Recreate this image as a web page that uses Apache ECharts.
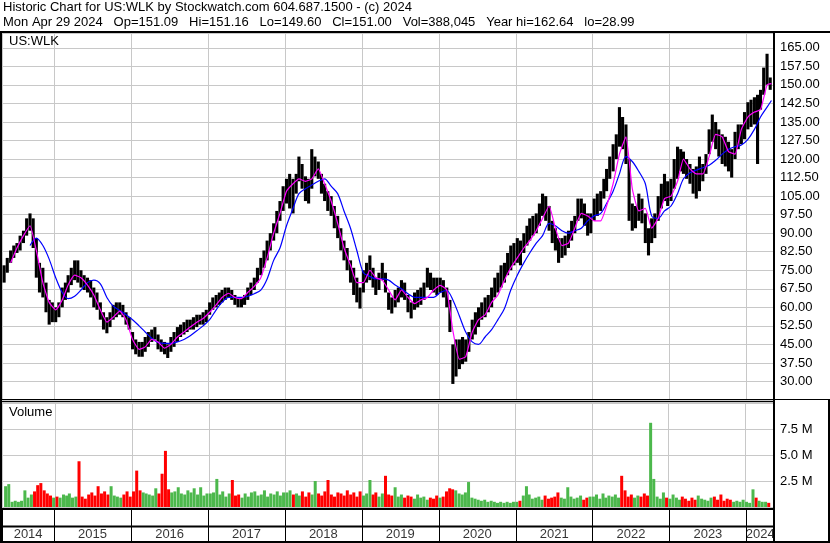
<!DOCTYPE html>
<html><head><meta charset="utf-8">
<script src="https://cdn.jsdelivr.net/npm/echarts@6/dist/echarts.min.js"></script>
<style>html,body{margin:0;padding:0;background:#fff}#c{width:830px;height:543px}</style>
</head><body><div id="c"></div>
<script>
// Half-month bars from May 2014 to Apr 2024 (index 0 = 1st half of May 2014)
const lows = [
70,74,78,80,82,83,86,89,91,84,72,66,64,58,53,54,
54,56,60,63,66,69,71,70,68,67,66,64,60,59,55,51,49.5,52,55,56,57,56,53,51,
43,41,40,40,42,44,46,47,43,42,41,39.5,42,44,46,48,49,50,51,51,52,53,53,54,
57,59,60,61,62,63,64,63,61,60,60,61,63,65,67,70,73,76,79,83,87,90,95,99,
102,100,98,106,111,108,103,102,108,113,112,106,103,99,97,92,88,83,79,75,70,65,62,59.5,
66,70,71,68,65,67,71,66,59,57.5,60,62,64,63,58,55.5,59,60,61,63,68,67,66,65,
66,64,60,50,29,32,35,37,38,42,47,49,52,55,56,58,60,64,66,68,70,73,75,77,
78,77,82,85,87,89,90,93,97,95,91,86,83,78,80,81,84,87,90,95,96,93,89,90,
95,97,99,104,107,112,115,120,125,124,118,95,91,92,95,94,86,81,86,88,95,100,103,101,
103,108,112,115,114,112,110,106,104,107,111,114,122,127,124,121,118,117,115,112.5,120,124,126,128,
132,133,134,118,140,146,150,148
];
const highs = [
77,80,83,85,86,89,91,96,98,96,88,78,76,70,63,62,
60,62,68,70,73,76,79,79,75,73,72,71,68,66,62,58,56,58,61,62,62,61,58,56,
50,47,46,46,48,50,51,52,49,47,46,45,48,50,52,53,54,55,55,56,57,57,58,59,
62,64,65,66,67,68,68,67,65,64,64,65,68,70,72,76,80,83,87,90,94,99,103,109,
112,114,112,114,121,118,113,112,124,121,119,114,110,107,105,101,97,92,87,84,79,76,72,68,
75,78,81,76,72,74,78,74,66,64,67,68,71,70,65,62,66,67,68,70,76,74,72,72,
72,71,68,63,45,47,47,48,47,50,55,58,60,62,64,65,68,72,74,77,78,82,85,86,
88,87,90,93,96,97,98,102,106,105,101,95,92,88,88,89,91,95,97,104,104,102,98,98,
104,106,107,112,116,121,126,130,141,137,134,120,102,101,106,104,98,92,96,98,105,110,114,111,
112,120,125,124,123,120,118,116,117,121,118,122,132,138,135,132,130,129,127,124,131,134,134,139,
143,144,145,146,148,157,162.6,153
];
// Volume, millions of shares
const volumes = [
2.0,2.2,0.5,0.6,0.5,0.6,1.6,0.9,1.2,1.5,2.1,2.3,1.6,1.3,1.1,0.9,
1.0,0.9,1.2,1.1,1.3,0.9,1.0,4.4,1.0,0.8,1.2,1.4,1.1,2.0,1.3,1.5,1.2,2.0,1.1,1.0,0.9,1.2,1.5,1.0,
1.5,3.5,1.6,1.4,1.3,1.2,1.1,1.8,1.3,3.2,5.4,1.7,1.4,1.5,1.9,1.3,1.2,1.6,1.4,1.8,1.2,1.9,1.1,1.3,
1.3,1.4,2.7,1.2,1.5,1.0,1.3,2.6,1.1,1.2,0.9,1.3,1.0,1.4,1.5,1.1,1.2,1.6,1.0,1.3,1.2,1.5,1.1,1.4,
1.4,1.6,1.2,1.3,1.1,1.5,1.0,1.4,1.2,2.5,1.3,1.1,1.5,2.6,1.2,1.0,1.4,1.3,1.1,1.6,1.2,1.4,1.0,1.5,
1.1,1.3,2.6,1.2,1.4,1.0,1.3,3.0,1.2,1.1,1.9,1.0,1.2,0.9,1.1,1.0,0.8,1.2,0.9,1.0,0.7,0.9,0.8,1.1,
0.9,1.0,1.5,1.8,1.7,1.6,1.3,1.2,1.4,2.4,0.9,0.8,0.7,0.6,0.7,0.5,0.6,0.5,0.4,0.5,0.4,0.5,0.4,0.5,
0.5,0.6,1.1,2.0,1.2,0.8,0.9,1.0,0.7,1.1,0.8,0.9,1.0,1.4,0.9,0.8,1.9,1.0,0.8,0.9,1.1,0.7,0.9,1.0,
1.0,1.2,0.8,1.3,0.9,1.1,1.0,1.2,0.9,3.0,1.6,1.0,1.2,0.9,1.1,1.0,1.3,1.1,8.1,2.7,1.0,0.8,1.4,0.9,
0.8,1.2,0.9,0.7,1.0,0.8,0.6,0.9,0.7,1.1,0.8,0.7,0.6,0.9,1.0,0.7,1.2,0.6,0.8,0.7,0.5,0.6,0.5,0.7,
0.5,0.4,1.7,0.9,0.6,0.5,0.5,0.4
];
// Monthly moving-average readings (first half of each month) + last day
const maShort = [
null,78,84,89,93,83,70,62,59,63,
69,73,72,69,65,59,54,56,58.5,55,
47,43,44,47,46,43.5,45,48,50,52,
54,55.5,58,61,64,65.7,64,63.5,66,68.5,
72,80,90,98,107,110,112,111,112,116,
110,103,94,84,77,70,70,75,72,71,
67,63,67,64,61.5,63,64,67,68.9,67,
50.6,39,40,50,55,57,62,65,71,76,
80,84,87,91,96,101,92,85,86,92,
98,97,95,95,101,110,122,129,108,99,
100,92,96,104,105,111,120,116,114,114,
121,130,129,123,122,132,137,139,140,150,
150.5
];
const maLong = [
null,null,null,null,85,88,85,79.5,72,66,
63.5,64.5,67,70,71,69.5,64,60.5,58.7,57,
55,52.5,50,47.5,45.8,45.4,45.4,46,47,48.5,
50.5,52.5,55,59,62,64,64,64,64.5,65.5,
67,71.5,79,84,93,100,106,108,109.5,111,
112,109,106,99,92,83,74,72.5,71.5,71.5,
71,69,67.5,65.5,64,64,64,64,66,66.8,
63,56.5,50,46,45,48,51,55,59.5,67,
73,78,82,86,89,94,93,91,90,91,
92,95,97,98,102,107,114,121,119,115,
110,97,96,99,101,106,112,114.5,115.5,116.5,
117.5,119.5,122,124,125,125.7,128,132,137,141,
143.7
];
const yearLabels = ['2014','2015','2016','2017','2018','2019','2020','2021','2022','2023','2024'];
const yearLabelDates = ['2014-08-30','2015-07-02','2016-07-02','2017-07-02','2018-07-02','2019-07-02','2020-07-02','2021-07-02','2022-07-02','2023-07-02','2024-03-07'];
const headerLine1 = 'Historic Chart for US:WLK by Stockwatch.com 604.687.1500 - (c) 2024';
const headerLine2 = 'Mon Apr 29 2024   Op=151.09   Hi=151.16   Lo=149.60   Cl=151.00   Vol=388,045   Year hi=162.64   lo=28.99';
const symbolName = 'US:WLK';
const volumeTitle = 'Volume';

function barDate(i) {
  const m = 4 + Math.floor(i / 2);
  const y = 2014 + Math.floor(m / 12);
  const mm = (m % 12) + 1;
  return y + '-' + String(mm).padStart(2, '0') + '-' + (i % 2 ? '23' : '08');
}
const dates = lows.map((_, i) => barDate(i));
const maDates = maShort.map((_, k) => (k < 120 ? barDate(2 * k) : '2024-04-29'));

const FONT = '"Liberation Sans", Arial, sans-serif';
const xMin = +new Date('2014-04-28');
const xMax = +new Date('2024-05-11');
const YEAR = 365.25 * 864e5;

function xAxisFor(gridIndex, splitColor) {
  return {
    type: 'time', gridIndex, min: xMin, max: xMax,
    minInterval: YEAR, maxInterval: YEAR,
    axisLine: { show: false }, axisTick: { show: false }, axisLabel: { show: false },
    splitLine: { show: true, lineStyle: { color: splitColor, width: 1 } }
  };
}

const mids = lows.map((l, i) => (l + highs[i]) / 2);
const volData = volumes.map((v, i) => ({
  value: [dates[i], v],
  itemStyle: { color: (i === 0 || mids[i] >= mids[i - 1]) ? '#4cb84c' : '#ff0000' }
}));

const chart = echarts.init(document.getElementById('c'), null, { renderer: 'canvas' });
chart.setOption({
  backgroundColor: '#fff',
  animation: false,
  grid: [
    { left: 2, right: 56, top: 33, height: 367 },
    { left: 2, right: 56, top: 402, height: 105 },
    { left: 2, right: 56, top: 510, height: 16 },
    { left: 2, right: 56, top: 527, height: 14 }
  ],
  xAxis: [xAxisFor(0, '#c8c8c8'), xAxisFor(1, '#c8c8c8'), xAxisFor(2, '#000'), xAxisFor(3, '#000')],
  yAxis: [
    { type: 'value', gridIndex: 0, position: 'right', min: 22.5, max: 171, interval: 7.5,
      axisLine: { show: false }, axisTick: { show: false },
      axisLabel: { showMinLabel: false, showMaxLabel: false, margin: 6, color: '#000', fontSize: 13, fontFamily: FONT,
        formatter: v => (v < 29 || v > 166 ? '' : v.toFixed(2)) },
      splitLine: { lineStyle: { color: '#c8c8c8', width: 1 } } },
    { type: 'value', gridIndex: 1, position: 'right', min: 0, max: 10.1, interval: 2.5,
      axisLine: { show: false }, axisTick: { show: false },
      axisLabel: { showMinLabel: false, showMaxLabel: false, margin: 6, color: '#000', fontSize: 13, fontFamily: FONT,
        formatter: v => (v === 0 || v > 8 ? '' : v.toFixed(1) + ' M') },
      splitLine: { lineStyle: { color: '#c8c8c8', width: 1 } } },
    { type: 'value', gridIndex: 2, min: 0, max: 1, show: false },
    { type: 'value', gridIndex: 3, min: 0, max: 1, show: false }
  ],
  series: [
    {
      type: 'custom', xAxisIndex: 0, yAxisIndex: 0, z: 3,
      data: dates.map((d, i) => [d, lows[i], highs[i]]),
      encode: { x: 0, y: [1, 2] },
      renderItem(params, api) {
        const lo = api.coord([api.value(0), api.value(1)]);
        const hi = api.coord([api.value(0), api.value(2)]);
        const w = 3.1;
        return { type: 'rect', shape: { x: lo[0] - w / 2, y: hi[1], width: w, height: Math.max(1, lo[1] - hi[1]) },
          style: { fill: '#000' } };
      }
    },
    { type: 'line', xAxisIndex: 0, yAxisIndex: 0, z: 4, data: maDates.map((d, k) => [d, maLong[k]]),
      showSymbol: false, smooth: 0.3, lineStyle: { color: '#0000ff', width: 1.2 } },
    { type: 'line', xAxisIndex: 0, yAxisIndex: 0, z: 5, data: maDates.map((d, k) => [d, maShort[k]]),
      showSymbol: false, smooth: 0.15, lineStyle: { color: '#ff00ff', width: 1.2 } },
    { type: 'bar', xAxisIndex: 1, yAxisIndex: 1, data: volData, barWidth: 3 },
    { type: 'scatter', xAxisIndex: 3, yAxisIndex: 3, symbolSize: 0,
      data: yearLabelDates.map((d, i) => [d, 0.5, yearLabels[i]]),
      label: { show: true, position: 'inside', formatter: p => p.value[2], color: '#000', fontSize: 13, fontFamily: FONT } }
  ],
  graphic: [
    { type: 'text', x: 3, y: 7.5, z: 100, style: { text: headerLine1, font: '13px ' + FONT, fill: '#000', verticalAlign: 'middle' } },
    { type: 'text', x: 3, y: 22.1, z: 100, style: { text: headerLine2, font: '13px ' + FONT, fill: '#000', verticalAlign: 'middle' } },
    { type: 'text', x: 9, y: 41.5, z: 100, style: { text: symbolName, font: '13px ' + FONT, fill: '#000', verticalAlign: 'middle' } },
    { type: 'text', x: 9, y: 412.5, z: 100, style: { text: volumeTitle, font: '13px ' + FONT, fill: '#000', verticalAlign: 'middle' } },
    { type: 'rect', z: 100, shape: { x: 0, y: 31, width: 830, height: 2 }, style: { fill: '#000' } },
    { type: 'rect', z: 100, shape: { x: 0, y: 31, width: 2, height: 512 }, style: { fill: '#000' } },
    { type: 'rect', z: 100, shape: { x: 773, y: 31, width: 2, height: 512 }, style: { fill: '#000' } },
    { type: 'rect', z: 100, shape: { x: 828, y: 399, width: 2, height: 144 }, style: { fill: '#000' } },
    { type: 'rect', z: 100, shape: { x: 0, y: 399, width: 830, height: 1 }, style: { fill: '#000' } },
    { type: 'rect', z: 100, shape: { x: 0, y: 401, width: 775, height: 1 }, style: { fill: '#000' } },
    { type: 'rect', z: 100, shape: { x: 0, y: 508, width: 775, height: 2 }, style: { fill: '#000' } },
    { type: 'rect', z: 100, shape: { x: 0, y: 525.5, width: 775, height: 2 }, style: { fill: '#000' } },
    { type: 'rect', z: 100, shape: { x: 0, y: 541, width: 830, height: 2 }, style: { fill: '#000' } }
  ]
});
</script></body></html>
